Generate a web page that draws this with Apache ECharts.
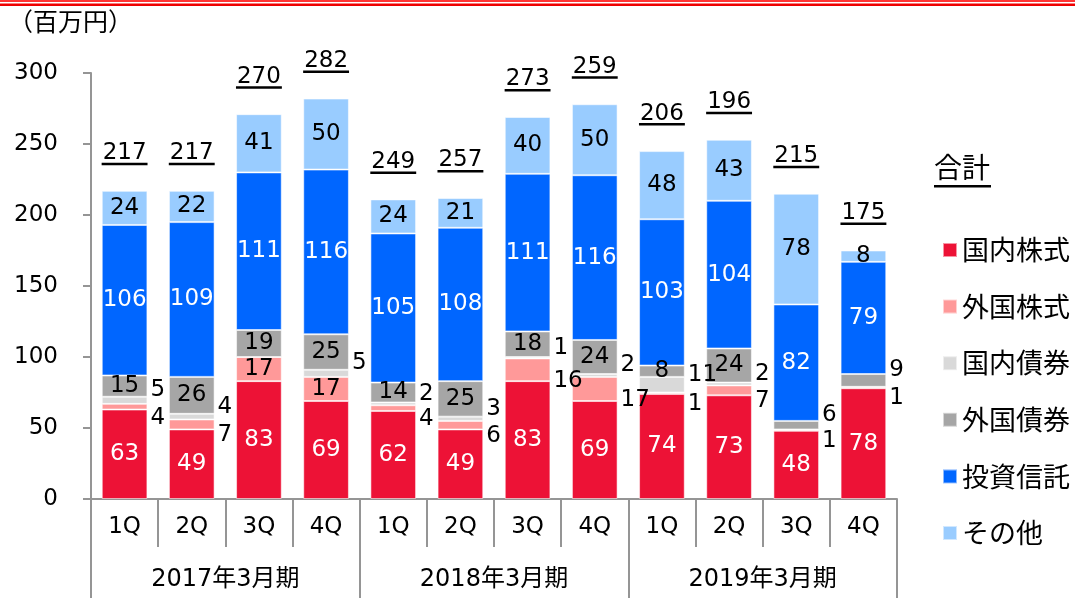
<!DOCTYPE html>
<html>
<head>
<meta charset="utf-8">
<script src="https://cdn.jsdelivr.net/npm/echarts@6/dist/echarts.min.js"></script>
<style>
  html, body { margin: 0; padding: 0; background: #fff; }
  #chart { width: 1075px; height: 598px; }
</style>
</head>
<body>
<div id="chart"></div>
<script>
// Quarterly figures (百万円), three fiscal years
const quarters = ['1Q', '2Q', '3Q', '4Q', '1Q', '2Q', '3Q', '4Q', '1Q', '2Q', '3Q', '4Q'];
const fiscalYears = ['2017年3月期', '2018年3月期', '2019年3月期'];

const domesticStocks   = [63, 49, 83, 69, 62, 49, 83, 69, 74, 73, 48, 78];
const foreignStocks    = [4, 7, 17, 17, 4, 6, 16, 17, 1, 7, 1, 1];
const domesticBonds    = [5, 4, 0, 5, 2, 3, 1, 2, 11, 2, 0, 0];
const foreignBonds     = [15, 26, 19, 25, 14, 25, 18, 24, 8, 24, 6, 9];
const investmentTrusts = [106, 109, 111, 116, 105, 108, 111, 116, 103, 104, 82, 79];
const others           = [24, 22, 41, 50, 24, 21, 40, 50, 48, 43, 78, 8];
const totals           = [217, 217, 270, 282, 249, 257, 273, 259, 206, 196, 215, 175];

const yTicks = [0, 50, 100, 150, 200, 250, 300];

const FONT = '"DejaVu Sans", "Noto Sans CJK JP", sans-serif';
const CJK_FONT = '"Noto Sans CJK JP", sans-serif';
const LABEL_SIZE = 23;

// where the segment labels sit outside the bar (to its right)
const pinkInside = [2, 3];
const grayOutside = [10, 11];

function measure(text, font) {
  const ctx = document.createElement('canvas').getContext('2d');
  ctx.font = font;
  return ctx.measureText(text).width;
}

function segment(name, values, color, labelColor, rightOffset) {
  return {
    name: name,
    type: 'bar',
    stack: 'total',
    barCategoryGap: '32%',
    data: values.map(function (v, i) {
      const off = rightOffset(i);
      if (!off) return v;
      return { value: v, label: { position: 'right', distance: 3, offset: off, color: '#000' } };
    }),
    itemStyle: { color: color, borderColor: 'rgba(255,255,255,0.55)', borderWidth: 1 },
    label: {
      show: true,
      position: 'inside',
      color: labelColor,
      fontSize: LABEL_SIZE,
      fontFamily: FONT,
      formatter: function (p) { return p.value ? String(p.value) : ''; }
    },
    emphasis: { disabled: true }
  };
}

const stackTops = quarters.map(function (_, i) {
  return domesticStocks[i] + foreignStocks[i] + domesticBonds[i] +
         foreignBonds[i] + investmentTrusts[i] + others[i];
});

const chart = echarts.init(document.getElementById('chart'), null, { renderer: 'canvas' });

const axisGray = '#959595';
const sumFont = '28px ' + CJK_FONT;
const sumWidth = measure('合計', sumFont);

chart.setOption({
  animation: false,
  backgroundColor: '#fff',
  grid: { left: 91, right: 178, top: 73, bottom: 99, containLabel: false },
  graphic: [
    { type: 'rect', shape: { x: 0, y: 0, width: 1075, height: 2 }, style: { fill: '#f33' } },
    { type: 'rect', shape: { x: 0, y: 3.5, width: 1075, height: 2.5 }, style: { fill: '#e00' } },
    { type: 'text', left: 8, top: 9, style: { text: '（百万円）', font: '25px ' + CJK_FONT, fill: '#000' } },
    { type: 'text', left: 934, top: 153, style: { text: '合計', font: sumFont, fill: '#000' } },
    { type: 'rect', shape: { x: 934, y: 185, width: sumWidth + 1, height: 2.5 }, style: { fill: '#000' } }
  ],
  legend: {
    data: ['国内株式', '外国株式', '国内債券', '外国債券', '投資信託', 'その他'],
    orient: 'vertical',
    left: 937,
    top: 231,
    itemGap: 28.6,
    itemWidth: 14,
    itemHeight: 14,
    icon: 'rect',
    selectedMode: false,
    textStyle: { fontSize: 27, fontFamily: CJK_FONT, color: '#000', lineHeight: 28, padding: [0, 0, 0, 0] }
  },
  xAxis: [
    {
      type: 'category',
      data: quarters,
      position: 'bottom',
      axisLine: { show: true, lineStyle: { color: axisGray, width: 2 } },
      axisTick: { show: true, interval: 0, length: 48, inside: false, lineStyle: { color: axisGray, width: 2 } },
      axisLabel: { interval: 0, margin: 17, fontSize: 23, fontFamily: FONT, color: '#000' }
    },
    {
      type: 'category',
      data: fiscalYears,
      position: 'bottom',
      axisLine: { show: false },
      axisTick: { show: true, interval: 0, length: 100, lineStyle: { color: axisGray, width: 2 } },
      axisLabel: { interval: 0, margin: 69, fontSize: 24, fontFamily: FONT, color: '#000' }
    }
  ],
  yAxis: {
    type: 'value',
    min: yTicks[0],
    max: yTicks[yTicks.length - 1],
    interval: 50,
    splitLine: { show: false },
    axisLine: { show: true, lineStyle: { color: axisGray, width: 2 } },
    axisTick: { show: true, length: 8, lineStyle: { color: axisGray, width: 2 } },
    axisLabel: { margin: 33, fontSize: 23, fontFamily: FONT, color: '#000' }
  },
  series: [
    segment('国内株式', domesticStocks, '#ED1236', '#fff', function () { return null; }),
    segment('外国株式', foreignStocks, '#FF9999', '#000', function (i) {
      return pinkInside.indexOf(i) >= 0 ? null : [0, 11];
    }),
    segment('国内債券', domesticBonds, '#D9D9D9', '#000', function () { return [0, -10]; }),
    segment('外国債券', foreignBonds, '#A6A6A6', '#000', function (i) {
      return grayOutside.indexOf(i) >= 0 ? [0, -10] : null;
    }),
    segment('投資信託', investmentTrusts, '#0066FF', '#fff', function () { return null; }),
    segment('その他', others, '#99CCFF', '#000', function () { return null; }),
    {
      // underlined totals above each stack
      name: '合計',
      type: 'custom',
      xAxisIndex: 0,
      yAxisIndex: 0,
      z: 10,
      silent: true,
      data: stackTops.map(function (v, i) { return [i, v]; }),
      renderItem: function (params, api) {
        const p = api.coord([api.value(0), api.value(1)]);
        const txt = String(totals[params.dataIndex]);
        const font = LABEL_SIZE + 'px ' + FONT;
        const w = measure(txt, font);
        const lineY = p[1] - 28;
        return {
          type: 'group',
          children: [
            { type: 'text', style: { text: txt, x: p[0], y: lineY + 2, align: 'center', verticalAlign: 'bottom',
                font: font, fill: '#000' } },
            { type: 'rect', shape: { x: p[0] - w / 2 - 1, y: lineY, width: w + 2, height: 2.5 }, style: { fill: '#000' } }
          ]
        };
      }
    }
  ]
});
</script>
</body>
</html>
